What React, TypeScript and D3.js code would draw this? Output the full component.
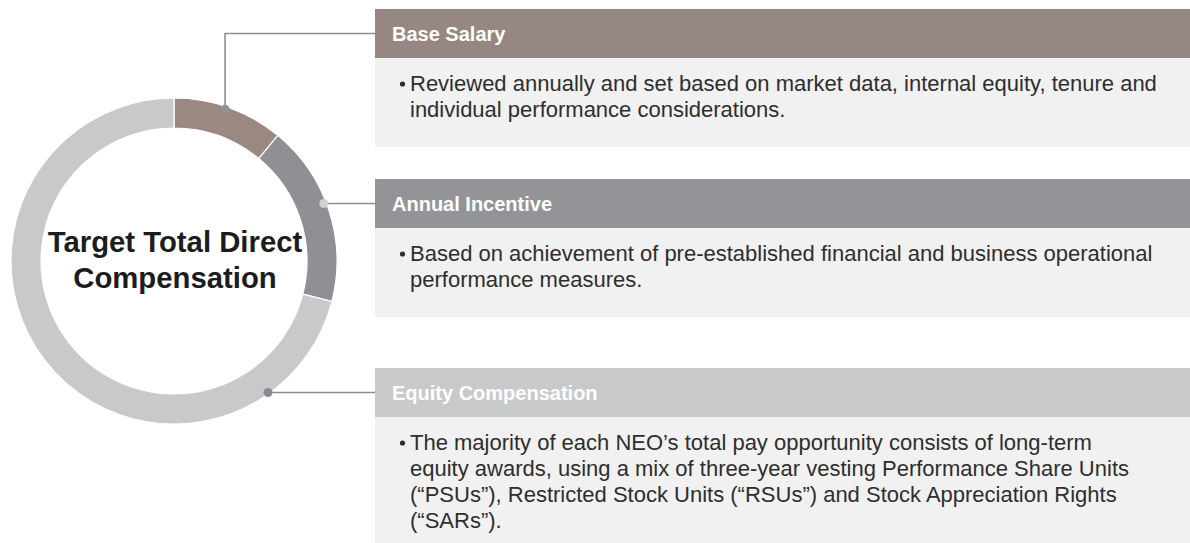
import React from "react";
import * as d3 from "d3";

const segments = ["Base Salary", "Annual Incentive", "Equity Compensation"];
const shares = [11, 18, 71];
const ringColors = ["#9a8881", "#8f9094", "#c8c9cb"];
const headerColors = ["#968782", "#939497", "#c8c9cb"];
const dotColors = ["#8f939a", "#d2d2d4", "#8a8b90"];
const dotFractions = [0.47, 0.46, 0.155];
const centerLines = ["Target Total Direct", "Compensation"];
const bodyLines = [
  [
    "Reviewed annually and set based on market data, internal equity, tenure and",
    "individual performance considerations.",
  ],
  [
    "Based on achievement of pre-established financial and business operational",
    "performance measures.",
  ],
  [
    "The majority of each NEO\u2019s total pay opportunity consists of long-term",
    "equity awards, using a mix of three-year vesting Performance Share Units",
    "(\u201cPSUs\u201d), Restricted Stock Units (\u201cRSUs\u201d) and Stock Appreciation Rights",
    "(\u201cSARs\u201d).",
  ],
];
// box layout: header tops and body bottoms
const boxTops = [9, 179, 368];
const boxBottoms = [147, 317, 543];

const W = 1190;
const H = 543;
const cx = 174;
const cy = 261;
const rOuter = 163;
const rInner = 133;
const boxX = 375;
const headerH = 49;
const font = "'Liberation Sans', Arial, Helvetica, sans-serif";

export default function App() {
  const pie = d3.pie<number>().sort(null).value((d) => d).startAngle(0).endAngle(2 * Math.PI);
  const arcs = pie(shares);
  const arc = d3.arc<d3.PieArcDatum<number>>().innerRadius(rInner).outerRadius(rOuter);
  const dotR = 160;

  const dots = arcs.map((a, i) => {
    const ang = a.startAngle + (a.endAngle - a.startAngle) * dotFractions[i];
    return { x: cx + dotR * Math.sin(ang), y: cy - dotR * Math.cos(ang) };
  });

  return (
    <div style={{ position: "absolute", left: 0, top: 0, width: W, height: H, background: "#fff" }}>
      <svg width={W} height={H} style={{ display: "block" }}>
        <rect x={0} y={0} width={W} height={H} fill="#ffffff" />
        {segments.map((s, i) => {
          const top = boxTops[i];
          const hb = top + headerH;
          return (
            <g key={s}>
              <rect x={boxX} y={hb} width={W - boxX} height={boxBottoms[i] - hb} fill="#f1f1f2" />
              <rect x={boxX} y={top} width={W - boxX} height={headerH} fill={headerColors[i]} />
              <text x={392} y={top + 32} fill="#ffffff" fontFamily={font} fontWeight="bold" fontSize={20}>
                {s}
              </text>
              {bodyLines[i].map((ln, j) => (
                <g key={j}>
                  {j === 0 && <circle cx={402.5} cy={hb + 33 - 7} r={2.6} fill="#2e2e2e" />}
                  <text x={410} y={hb + 33 + j * 26} fill="#2e2e2e" fontFamily={font} fontSize={22}>
                    {ln}
                  </text>
                </g>
              ))}
            </g>
          );
        })}
        <g transform={`translate(${cx},${cy})`}>
          {arcs.map((a, i) => (
            <path key={i} d={arc(a) || ""} fill={ringColors[i]} stroke="#ffffff" strokeWidth={1.2} />
          ))}
        </g>
        <g stroke="#8e8e92" strokeWidth={1.6} fill="none">
          <polyline
            points={`${dots[0].x},${dots[0].y} ${dots[0].x},${boxTops[0] + headerH / 2} ${boxX},${boxTops[0] + headerH / 2}`}
          />
          <line x1={dots[1].x} y1={boxTops[1] + headerH / 2} x2={boxX} y2={boxTops[1] + headerH / 2} />
          <line x1={dots[2].x} y1={boxTops[2] + headerH / 2} x2={boxX} y2={boxTops[2] + headerH / 2} />
        </g>
        {dots.map((d, i) => (
          <circle key={i} cx={d.x} cy={i === 0 ? d.y : boxTops[i] + headerH / 2} r={4.5} fill={dotColors[i]} />
        ))}
        {centerLines.map((t, i) => (
          <text
            key={t}
            x={cx + 1}
            y={252 + i * 36}
            textAnchor="middle"
            fill="#1c1c1c"
            fontFamily={font}
            fontWeight="bold"
            fontSize={29.3}
          >
            {t}
          </text>
        ))}
      </svg>
    </div>
  );
}
